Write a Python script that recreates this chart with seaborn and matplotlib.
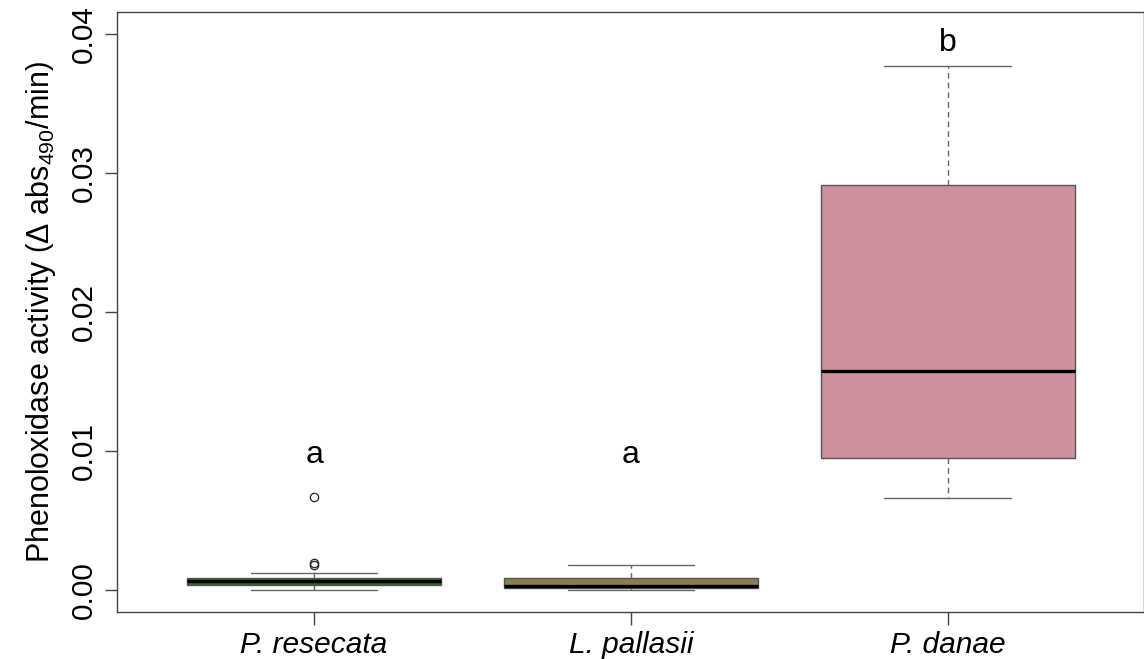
import matplotlib
matplotlib.use("Agg")
import matplotlib.pyplot as plt
import seaborn as sns
import pandas as pd

# sample values (whisker ends, hinges, medians, outliers)
species = ["P. resecata", "L. pallasii", "P. danae"]
resecata = [0.0, 0.00015, 0.00025, 0.0003, 0.00036, 0.00042, 0.0005, 0.00055, 0.0006,
            0.00065, 0.0007, 0.0008, 0.00088, 0.0012, 0.0018, 0.00196, 0.00666]
pallasii = [0.0, 0.00005, 0.00012, 0.0002, 0.00024, 0.0005, 0.00088, 0.0012, 0.0018]
danae = [0.00661, 0.0082, 0.00948, 0.0121, 0.01573, 0.0215, 0.02916, 0.0335, 0.0377]
box_colors = ["#1f6b1f", "#8b7e4e", "#cd909c"]
letters = ["a", "a", "b"]
letter_y = [0.0097, 0.0097, 0.0394]
yticks = [0.00, 0.01, 0.02, 0.03, 0.04]

data = pd.DataFrame({
    "species": [species[0]] * len(resecata) + [species[1]] * len(pallasii) + [species[2]] * len(danae),
    "activity": resecata + pallasii + danae,
})

sns.set_style("white")
plt.rcParams["font.family"] = ["Liberation Sans", "DejaVu Sans"]
plt.rcParams["mathtext.fontset"] = "custom"
plt.rcParams["mathtext.rm"] = "Liberation Sans"
plt.rcParams["mathtext.it"] = "Liberation Sans:italic"
plt.rcParams["text.color"] = "black"
plt.rcParams["axes.labelcolor"] = "black"
plt.rcParams["xtick.color"] = "black"
plt.rcParams["ytick.color"] = "black"

fig = plt.figure(figsize=(11.44, 6.59), dpi=100)
ax = fig.add_axes([0.1023, 0.0713, 0.8977, 0.9105])

sns.boxplot(data=data, x="species", y="activity", hue="species", order=species,
            palette=box_colors, width=0.8, legend=False, ax=ax, saturation=1,
            linecolor="#555555", linewidth=1,
            boxprops={"edgecolor": "#555555", "linewidth": 1},
            whiskerprops={"color": "#666666", "linestyle": (0, (4, 3)), "linewidth": 1},
            capprops={"color": "#666666", "linewidth": 1},
            medianprops={"color": "black", "linewidth": 2.4},
            flierprops={"marker": "o", "markerfacecolor": "none", "markeredgecolor": "#222222",
                        "markersize": 6, "markeredgewidth": 0.9},
            capwidths=0.4)

for i, (lab, yv) in enumerate(zip(letters, letter_y)):
    ax.text(i, yv, lab, ha="center", va="center", fontsize=23)

ax.set_xlim(-0.622, 2.619)
ax.set_ylim(-0.0016, 0.0416)
ax.set_yticks(yticks)
ax.set_yticklabels([f"{v:.2f}" for v in yticks], rotation=90, va="center", fontsize=21.5)
ax.set_xticks(range(len(species)))
ax.set_xticklabels(species, fontsize=21.5, style="italic")
ax.tick_params(axis="both", direction="out", length=9, width=1, color="#444444",
               left=True, bottom=True, pad=5)
ax.set_xlabel("")
ax.set_ylabel(r"Phenoloxidase activity $\left(\Delta\ \mathrm{abs}_{490}/\mathrm{min}\right)$",
              fontsize=22, labelpad=8)
for s in ax.spines.values():
    s.set_visible(True)
    s.set_color("#444444")
    s.set_linewidth(1)

fig.savefig("out.png", dpi=100)
